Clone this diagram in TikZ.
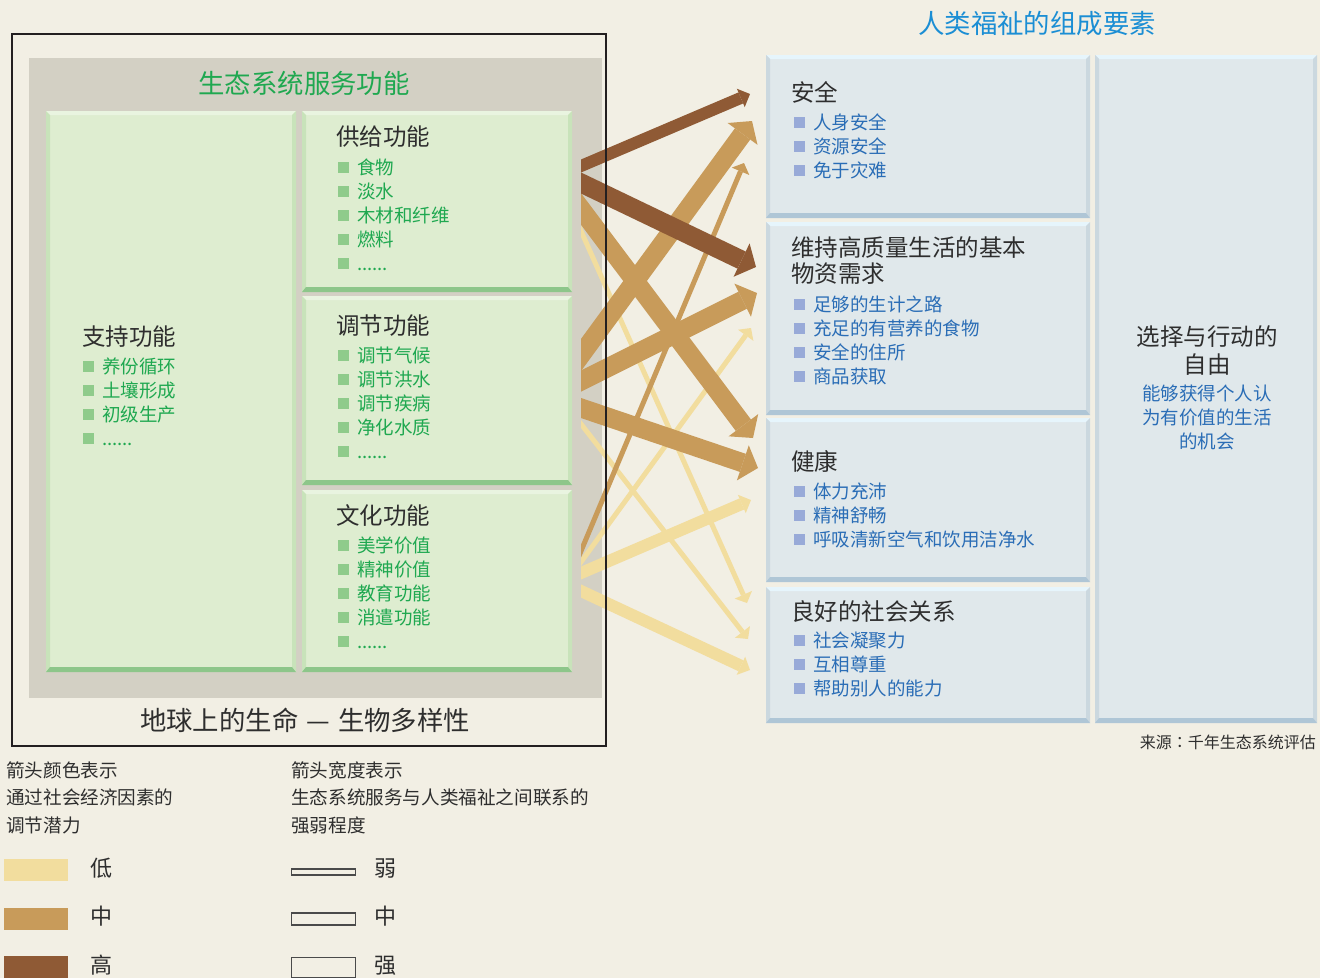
\documentclass[tikz,border=0pt]{standalone}
\usepackage{fontspec}
\setmainfont{Noto Sans CJK SC}
\newfontfamily\tcfont{Noto Sans CJK TC}
\usetikzlibrary{arrows.meta,calc}

\definecolor{bg}{HTML}{F2EFE4}
\definecolor{grayarea}{HTML}{D3D0C4}
\definecolor{gfill}{HTML}{DEEDD0}
\definecolor{gtop}{HTML}{E9F4E0}
\definecolor{gside}{HTML}{C8E3BA}
\definecolor{gbot}{HTML}{8DC68A}
\definecolor{bfill}{HTML}{E0E8EB}
\definecolor{btop}{HTML}{E6F5FC}
\definecolor{bside}{HTML}{CBD8DF}
\definecolor{bbot}{HTML}{AFC6D6}
\definecolor{gtext}{HTML}{1FA850}
\definecolor{btext}{HTML}{2A6DB6}
\definecolor{btitle}{HTML}{1B8ED4}
\definecolor{dtext}{HTML}{2E2E2E}
\definecolor{gbul}{HTML}{8FCB8B}
\definecolor{bbul}{HTML}{98AAD8}
\definecolor{cLow}{HTML}{F2DD9E}
\definecolor{cMed}{HTML}{C89B5A}
\definecolor{cHigh}{HTML}{8F5A35}
\definecolor{framec}{HTML}{231F20}
\definecolor{legline}{HTML}{4A4A4A}

\newcommand{\sixdots}{......}

\newcommand{\bevel}[4]{%
  \fill[#2] (#1.north west) -- (#1.north east) -- ([xshift=-4pt,yshift=-4pt]#1.north east) -- ([xshift=4pt,yshift=-4pt]#1.north west) -- cycle;
  \fill[#3] (#1.north west) -- ([xshift=4pt,yshift=-4pt]#1.north west) -- ([xshift=4pt,yshift=5pt]#1.south west) -- (#1.south west) -- cycle;
  \fill[#3] (#1.north east) -- ([xshift=-4pt,yshift=-4pt]#1.north east) -- ([xshift=-4pt,yshift=5pt]#1.south east) -- (#1.south east) -- cycle;
  \fill[#4] (#1.south west) -- ([xshift=4pt,yshift=5pt]#1.south west) -- ([xshift=-4pt,yshift=5pt]#1.south east) -- (#1.south east) -- cycle;}

\newcommand{\itemlist}[7]{%
  \foreach \t [count=\i] in {#7} {
    \node[#5] (#1b\i) at (#2,{#4+24*(\i-1)}) {};
    \node[#6] (#1t\i) at (#3,{#4+24*(\i-1)}) {\t};
  }}

\begin{document}
\begin{tikzpicture}[x=1pt,y=-1pt,
  gbox/.style={fill=gfill, inner sep=0pt, outer sep=0pt, anchor=north west},
  bbox/.style={fill=bfill, inner sep=0pt, outer sep=0pt, anchor=north west},
  bigtitle/.style={font=\fontsize{26.4}{30}\selectfont, inner sep=0pt, text height=21.8pt, text depth=1.8pt},
  boxtitle/.style={font=\fontsize{23.5}{28}\selectfont, text=dtext, inner sep=0pt, text height=19.5pt, text depth=1.7pt, anchor=west},
  gitem/.style={font=\fontsize{18.5}{22}\selectfont, text=gtext, inner sep=0pt, text height=15.5pt, text depth=1.5pt, anchor=west},
  bitem/.style={font=\fontsize{18.5}{22}\selectfont, text=btext, inner sep=0pt, text height=15.5pt, text depth=1.5pt, anchor=west},
  gsq/.style={fill=gbul, inner sep=0pt, minimum size=11pt},
  bsq/.style={fill=bbul, inner sep=0pt, minimum size=11pt},
  legtext/.style={font=\fontsize{18.6}{22}\selectfont, text=dtext, inner sep=0pt, text height=15.5pt, text depth=1.4pt, anchor=west},
  leglab/.style={font=\fontsize{22}{26}\selectfont, text=dtext, inner sep=0pt, text height=18.3pt, text depth=1.6pt, anchor=west},
  swatch/.style={inner sep=0pt, minimum width=64pt, minimum height=22pt, anchor=north west},
  widthbar/.style={draw=legline, line width=1.3pt, fill=bg, inner sep=0pt, minimum width=64pt, anchor=west},
  arrWeak/.style={line width=5pt, -{Triangle[width=19pt,length=9pt,line width=0pt]}},
  arrMid/.style={line width=12pt, -{Triangle[width=20pt,length=10pt,line width=0pt]}},
  arrStrong/.style={line width=19pt, -{Triangle[width=37pt,length=16pt,line width=0pt]}}
]
\useasboundingbox (0,0) rectangle (1320,978);
\fill[bg] (0,0) rectangle (1320,978);

% ---------- left panel ----------
\fill[grayarea] (29,58) rectangle (602,698);
\node[bigtitle, text=gtext] (estitle) at (304,83) {生态系统服务功能};

\node[gbox, minimum width=250pt, minimum height=561pt] (supp) at (46,111) {};
\node[gbox, minimum width=270pt, minimum height=181pt] (prov) at (302,111) {};
\node[gbox, minimum width=270pt, minimum height=189pt] (regu) at (302,296) {};
\node[gbox, minimum width=270pt, minimum height=182pt] (cult) at (302,490) {};
\bevel{supp}{gtop}{gside}{gbot}
\bevel{prov}{gtop}{gside}{gbot}
\bevel{regu}{gtop}{gside}{gbot}
\bevel{cult}{gtop}{gside}{gbot}

\node[boxtitle] (supptitle) at (82,337) {支持功能};
\itemlist{su}{88.5}{102}{366}{gsq}{gitem}{养份循环,土壤形成,初级生产,\sixdots}
\node[boxtitle] (provtitle) at (336,137) {供给功能};
\itemlist{pr}{343}{357}{167}{gsq}{gitem}{食物,淡水,木材和纤维,燃料,\sixdots}
\node[boxtitle] (regutitle) at (336,326) {调节功能};
\itemlist{re}{343}{357}{355}{gsq}{gitem}{调节气候,调节洪水,调节疾病,净化水质,\sixdots}
\node[boxtitle] (culttitle) at (336,516) {文化功能};
\itemlist{cu}{343}{357}{545}{gsq}{gitem}{美学价值,精神价值,教育功能,消遣功能,\sixdots}

\node[bigtitle, text=dtext] (earth) at (305,720) {地球上的生命\hspace{8pt}—\hspace{8pt}生物多样性};

% ---------- right panel ----------
\node[bigtitle, text=btitle] (hwtitle) at (1037,23) {人类福祉的组成要素};

\node[bbox, minimum width=324pt, minimum height=163pt] (secu) at (766,55) {};
\node[bbox, minimum width=324pt, minimum height=193pt] (basic) at (766,222) {};
\node[bbox, minimum width=324pt, minimum height=164pt] (health) at (766,418) {};
\node[bbox, minimum width=324pt, minimum height=136pt] (social) at (766,587) {};
\node[bbox, minimum width=222pt, minimum height=668pt] (free) at (1095,55) {};
\bevel{secu}{btop}{bside}{bbot}
\bevel{basic}{btop}{bside}{bbot}
\bevel{health}{btop}{bside}{bbot}
\bevel{social}{btop}{bside}{bbot}
\bevel{free}{btop}{bside}{bbot}

\node[boxtitle] (secutitle) at (791,93) {安全};
\itemlist{se}{799}{813}{122}{bsq}{bitem}{人身安全,资源安全,免于灾难}
\node[boxtitle] (basictitleA) at (791,248) {维持高质量生活的基本};
\node[boxtitle] (basictitleB) at (791,274) {物资需求};
\itemlist{ba}{799}{813}{304}{bsq}{bitem}{足够的生计之路,充足的有营养的食物,安全的住所,商品获取}
\node[boxtitle] (healthtitle) at (791,462) {健康};
\itemlist{he}{799}{813}{491.5}{bsq}{bitem}{体力充沛,精神舒畅,呼吸清新空气和饮用洁净水}
\node[boxtitle] (socialtitle) at (791,611.5) {良好的社会关系};
\itemlist{so}{799}{813}{640}{bsq}{bitem}{社会凝聚力,互相尊重,帮助别人的能力}

\node[boxtitle, anchor=center] (freeA) at (1207,337) {选择与行动的};
\node[boxtitle, anchor=center] (freeB) at (1207,365) {自由};
\node[bitem, anchor=center] (freeC) at (1207,393) {能够获得个人认};
\node[bitem, anchor=center] (freeD) at (1207,417) {为有价值的生活};
\node[bitem, anchor=center] (freeE) at (1207,441) {的机会};

\node[font=\fontsize{16}{19}\selectfont, text=dtext, inner sep=0pt, text height=13.4pt, text depth=1.2pt, anchor=east] (source) at (1316,742) {来源{\tcfont ：}千年生态系统评估};

% ---------- arrows ----------
\coordinate (s1) at (581,166);   \coordinate (t1) at (750,94);
\coordinate (s2) at (581,183);   \coordinate (t2) at (756,267);
\coordinate (s3) at (581,209);   \coordinate (t3) at (753,438);
\coordinate (s4) at (581,231);   \coordinate (t4) at (747,603);
\coordinate (s5) at (581,355);   \coordinate (t5) at (752,121);
\coordinate (s6) at (581,551);   \coordinate (t6) at (744,163);
\coordinate (s7) at (581,381);   \coordinate (t7) at (757,293);
\coordinate (s8) at (581,562);   \coordinate (t8) at (751,328);
\coordinate (s9) at (581,408);   \coordinate (t9) at (758,468);
\coordinate (s10) at (581,424);  \coordinate (t10) at (748,639);
\coordinate (s11) at (581,573);  \coordinate (t11) at (751,500);
\coordinate (s12) at (581,591);  \coordinate (t12) at (750,670);
\begin{scope}
\clip (581,0) rectangle (800,978);
\draw[arrWeak, cLow] ($(s4)!-30pt!(t4)$) -- (t4);
\draw[arrWeak, cLow] ($(s10)!-30pt!(t10)$) -- (t10);
\draw[arrWeak, cLow] ($(s8)!-30pt!(t8)$) -- (t8);
\draw[arrMid, cLow] ($(s11)!-30pt!(t11)$) -- (t11);
\draw[arrMid, cLow] ($(s12)!-30pt!(t12)$) -- (t12);
\draw[arrWeak, cMed] ($(s6)!-30pt!(t6)$) -- (t6);
\draw[arrStrong, cMed] ($(s3)!-30pt!(t3)$) -- (t3);
\draw[arrStrong, cMed] ($(s5)!-30pt!(t5)$) -- (t5);
\draw[arrStrong, cMed] ($(s7)!-30pt!(t7)$) -- (t7);
\draw[arrStrong, cMed] ($(s9)!-30pt!(t9)$) -- (t9);
\draw[arrMid, cHigh] ($(s1)!-30pt!(t1)$) -- (t1);
\draw[arrStrong, cHigh] ($(s2)!-30pt!(t2)$) -- (t2);
\end{scope}

% ---------- frame ----------
\draw[framec, line width=2.5pt] (12,34) rectangle (606,746);

% ---------- legend ----------
\node[legtext] (lcA) at (6,770) {箭头颜色表示};
\node[legtext] (lcB) at (6,797.5) {通过社会经济因素的};
\node[legtext] (lcC) at (6,825) {调节潜力};
\node[legtext] (lwA) at (291,770) {箭头宽度表示};
\node[legtext] (lwB) at (291,797.5) {生态系统服务与人类福祉之间联系的};
\node[legtext] (lwC) at (291,825) {强弱程度};

\node[swatch, fill=cLow] (swLow) at (4,859) {};
\node[swatch, fill=cMed] (swMed) at (4,908) {};
\node[swatch, fill=cHigh] (swHigh) at (4,956) {};
\node[leglab] (labLow) at (90,868) {低};
\node[leglab] (labMed) at (90,916.5) {中};
\node[leglab] (labHigh) at (90,965) {高};

\node[widthbar, minimum height=6pt] (wbWeak) at (291,872) {};
\node[widthbar, minimum height=12pt] (wbMid) at (291,919) {};
\node[widthbar, minimum height=20pt] (wbStrong) at (291,967.5) {};
\node[leglab] (labWeak) at (374,868) {弱};
\node[leglab] (labMid) at (374,916.5) {中};
\node[leglab] (labStrong) at (374,965) {强};
\end{tikzpicture}
\end{document}
